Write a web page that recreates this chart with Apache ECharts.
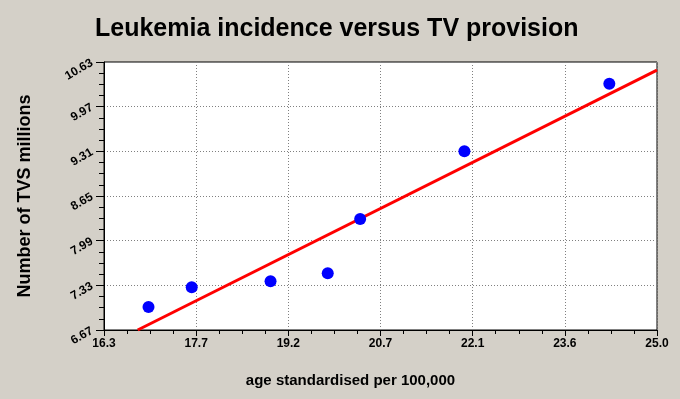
<!DOCTYPE html>
<html>
<head>
<meta charset="utf-8">
<script src="https://cdn.jsdelivr.net/npm/echarts@6/dist/echarts.min.js"></script>
<style>
  html, body { margin: 0; padding: 0; background: #d4d0c8; }
  #chart { width: 680px; height: 399px; }
</style>
</head>
<body>
<div id="chart"></div>
<script>
// tick labels as printed on the original
var xTickLabels = ['16.3', '17.7', '19.2', '20.7', '22.1', '23.6', '25.0']
var yTickLabels = ['6.67', '7.33', '7.99', '8.65', '9.31', '9.97', '10.63']
var xRange = [16.3, 25.0]
var yRange = [6.67, 10.63]

var leukemia = [17.0, 17.68, 18.92, 19.82, 20.33, 21.97, 24.25]
var tvs = [7.01, 7.30, 7.39, 7.51, 8.31, 9.31, 10.31]

// fitted line end points
var fitX = [16.83, 25.0]
var fitY = [6.67, 10.51]

// axes run 0..6 (one unit per labelled tick)
function toX(v) { return (v - xRange[0]) / (xRange[1] - xRange[0]) * 6 }
function toY(v) { return (v - yRange[0]) / (yRange[1] - yRange[0]) * 6 }

var points = leukemia.map(function (x, i) { return [toX(x), toY(tvs[i])] })
var fit = fitX.map(function (x, i) { return [toX(x), toY(fitY[i])] })

var chart = echarts.init(document.getElementById('chart'))
var labelFont = 'Liberation Sans, Arial, sans-serif'

chart.setOption({
  backgroundColor: '#d4d0c8',
  animation: false,
  title: {
    text: 'Leukemia incidence versus TV provision',
    left: 90,
    top: 12,
    textStyle: { fontFamily: labelFont, fontSize: 25, fontWeight: 'bold', color: '#000' }
  },
  grid: {
    left: 104, right: 23, top: 62, bottom: 69,
    show: true, backgroundColor: '#fff', borderColor: '#000', borderWidth: 1
  },
  xAxis: {
    type: 'value', min: 0, max: 6, interval: 1,
    name: 'age standardised per 100,000',
    nameLocation: 'middle', nameGap: 43,
    nameTextStyle: { fontFamily: labelFont, fontSize: 15, fontWeight: 'bold', color: '#000', padding: [0, 60, 0, 0] },
    axisLine: { lineStyle: { color: '#000', width: 1 } },
    axisTick: { length: 6, lineStyle: { color: '#000' } },
    minorTick: { show: true, splitNumber: 4, length: 4, lineStyle: { color: '#000' } },
    axisLabel: {
      margin: 8, fontFamily: labelFont, fontSize: 12, fontWeight: 'bold', color: '#000',
      formatter: function (v) { return xTickLabels[Math.round(v)] }
    },
    splitLine: { show: true, lineStyle: { color: '#808080', type: [1, 2] } }
  },
  yAxis: {
    type: 'value', min: 0, max: 6, interval: 1,
    name: 'Number of TVS millions',
    nameLocation: 'middle', nameGap: 70,
    nameTextStyle: { fontFamily: labelFont, fontSize: 18, fontWeight: 'bold', color: '#000' },
    axisLine: { lineStyle: { color: '#000', width: 1 } },
    axisTick: { length: 8, lineStyle: { color: '#000' } },
    minorTick: { show: true, splitNumber: 4, length: 5, lineStyle: { color: '#000' } },
    axisLabel: {
      margin: 12, rotate: 30, fontFamily: labelFont, fontSize: 12, fontWeight: 'bold', color: '#000',
      formatter: function (v) { return yTickLabels[Math.round(v)] }
    },
    splitLine: { show: true, lineStyle: { color: '#808080', type: [1, 2] } }
  },
  series: [
    {
      type: 'line',
      data: fit,
      symbol: 'none',
      lineStyle: { color: '#ff0000', width: 3 },
      z: 2
    },
    {
      type: 'scatter',
      data: points,
      symbol: 'circle',
      symbolSize: 12,
      itemStyle: { color: '#0000ff', opacity: 1 },
      z: 3
    }
  ]
})
</script>
</body>
</html>
